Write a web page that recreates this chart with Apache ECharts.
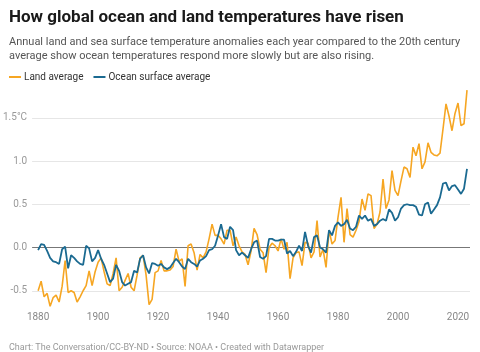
<!DOCTYPE html>
<html>
<head>
<meta charset="utf-8">
<script src="https://cdn.jsdelivr.net/npm/echarts@6/dist/echarts.min.js"></script>
<style>
html,body{margin:0;padding:0;background:#fff;}
#c{width:480px;height:352px;}
</style>
</head>
<body>
<div id="c"></div>
<script>
const startYear = 1880;
const landAverage = [
-0.50,-0.39,-0.57,-0.53,-0.68,-0.58,-0.55,-0.63,-0.45,-0.15,
-0.52,-0.50,-0.52,-0.63,-0.57,-0.50,-0.44,-0.27,-0.44,-0.28,
-0.17,-0.12,-0.28,-0.42,-0.44,-0.30,-0.12,-0.50,-0.46,-0.38,
-0.30,-0.46,-0.50,-0.32,-0.12,-0.09,-0.32,-0.66,-0.60,-0.29,
-0.27,-0.15,-0.27,-0.27,-0.26,-0.22,-0.02,-0.16,-0.13,-0.45,
0.02,0.04,-0.06,-0.26,-0.08,-0.12,-0.05,0.10,0.27,0.14,
0.14,0.10,0.04,0.20,0.20,0.02,0.12,0.02,-0.05,-0.08,
-0.20,-0.04,0.22,0.15,-0.02,-0.06,-0.29,0.00,0.05,0.02,
-0.04,0.10,-0.02,0.06,-0.36,-0.12,-0.06,-0.05,-0.21,0.06,
0.05,-0.12,-0.05,0.31,-0.11,-0.02,-0.23,0.20,0.04,0.08,
0.35,0.58,0.06,0.45,0.15,0.12,0.20,0.30,0.56,0.43,
0.62,0.60,0.22,0.27,0.41,0.79,0.45,0.55,0.89,0.66,
0.60,0.77,0.93,0.91,0.81,1.16,1.06,1.20,0.91,0.99,
1.21,1.10,1.07,1.06,1.09,1.37,1.66,1.52,1.35,1.55,
1.67,1.41,1.43,1.82
];
const oceanSurfaceAverage = [
-0.03,0.04,0.03,-0.04,-0.12,-0.16,-0.17,-0.19,-0.02,0.01,
-0.24,-0.09,-0.12,-0.16,-0.19,-0.20,0.02,-0.01,-0.16,-0.12,
-0.03,-0.13,-0.20,-0.30,-0.40,-0.36,-0.20,-0.27,-0.40,-0.44,
-0.42,-0.40,-0.27,-0.29,-0.13,-0.09,-0.23,-0.30,-0.18,-0.19,
-0.21,-0.19,-0.23,-0.25,-0.23,-0.18,-0.13,-0.17,-0.22,-0.25,
-0.13,-0.17,-0.19,-0.22,-0.15,-0.13,-0.10,-0.03,-0.02,0.02,
0.14,0.27,0.12,0.10,0.24,0.20,-0.03,-0.09,-0.06,-0.09,
-0.12,-0.02,0.06,0.08,-0.11,-0.13,-0.10,0.10,0.10,0.08,
0.08,0.09,0.09,-0.07,-0.04,-0.10,-0.05,0.02,-0.04,0.18,
0.02,-0.06,0.12,0.14,0.00,-0.02,-0.06,0.20,0.14,0.25,
0.29,0.25,0.27,0.32,0.22,0.20,0.24,0.37,0.33,0.37,
0.31,0.33,0.25,0.27,0.31,0.33,0.31,0.44,0.40,0.31,
0.35,0.45,0.49,0.50,0.49,0.49,0.47,0.38,0.37,0.50,
0.52,0.39,0.44,0.49,0.58,0.74,0.75,0.66,0.71,0.72,
0.67,0.62,0.68,0.91
];
const years = landAverage.map((_, i) => startYear + i);
const yTickValues = [-0.5, 0, 0.5, 1, 1.5];
const xTickValues = [1880, 1900, 1920, 1940, 1960, 1980, 2000, 2020];

const FONT = 'Roboto, "Noto Sans", sans-serif';
const chart = echarts.init(document.getElementById('c'), null, {renderer: 'canvas'});
chart.setOption({
  animation: false,
  backgroundColor: '#ffffff',
  textStyle: {fontFamily: FONT},
  title: [
    {text: 'How global ocean and land temperatures have risen', left: 4, top: 4,
     textStyle: {fontFamily: FONT, fontWeight: 'bold', fontSize: 17, color: '#1a1a1a'}},
    {text: 'Annual land and sea surface temperature anomalies each year compared to the 20th century\naverage show ocean temperatures respond more slowly but are also rising.',
     left: 4, top: 30,
     textStyle: {fontFamily: FONT, fontWeight: 'normal', fontSize: 11, lineHeight: 14, color: '#555'}},
    {text: 'Chart: The Conversation/CC-BY-ND • Source: NOAA • Created with Datawrapper',
     left: 4, top: 338,
     textStyle: {fontFamily: FONT, fontWeight: 'normal', fontSize: 9, color: '#999'}}
  ],
  legend: {
    left: 4, top: 67, itemGap: 10, itemWidth: 12, itemHeight: 2,
    icon: 'rect',
    textStyle: {fontFamily: FONT, fontSize: 10, color: '#333', padding: [0,0,0,-2]},
    data: ['Land average', 'Ocean surface average']
  },
  grid: {left: 32, right: 10, top: 74.5, bottom: 18, containLabel: false},
  xAxis: {
    type: 'value', min: 1878, max: 2024, interval: 2,
    axisLine: {show: false}, axisTick: {show: false}, splitLine: {show: false},
    axisLabel: {
      margin: -22, color: '#888', fontSize: 10, fontFamily: FONT,
      formatter: v => xTickValues.includes(v) ? String(v) : ''
    }
  },
  yAxis: {
    type: 'value', min: -1, max: 2, interval: 0.5,
    axisLine: {show: false}, axisTick: {show: false},
    axisLabel: {
      margin: 5, color: '#999', fontSize: 10, fontFamily: FONT,
      formatter: v => {
        if (!yTickValues.includes(v)) return '';
        return v === 1.5 ? '1.5°C' : v.toFixed(1);
      }
    },
    splitLine: {lineStyle: {
      width: 1,
      color: ['rgba(0,0,0,0)', '#e6e6e6', '#777777', '#e6e6e6', '#e6e6e6', '#e6e6e6', 'rgba(0,0,0,0)']
    }}
  },
  series: [
    {name: 'Land average', type: 'line', showSymbol: false, symbol: 'none',
     data: years.map((y, i) => [y, landAverage[i]]),
     color: '#f6a623', lineStyle: {color: '#f6a623', width: 1.6}, z: 2},
    {name: 'Ocean surface average', type: 'line', showSymbol: false, symbol: 'none',
     data: years.map((y, i) => [y, oceanSurfaceAverage[i]]),
     color: '#1b6a91', lineStyle: {color: '#1b6a91', width: 1.8}, z: 3}
  ]
});
</script>
</body>
</html>
